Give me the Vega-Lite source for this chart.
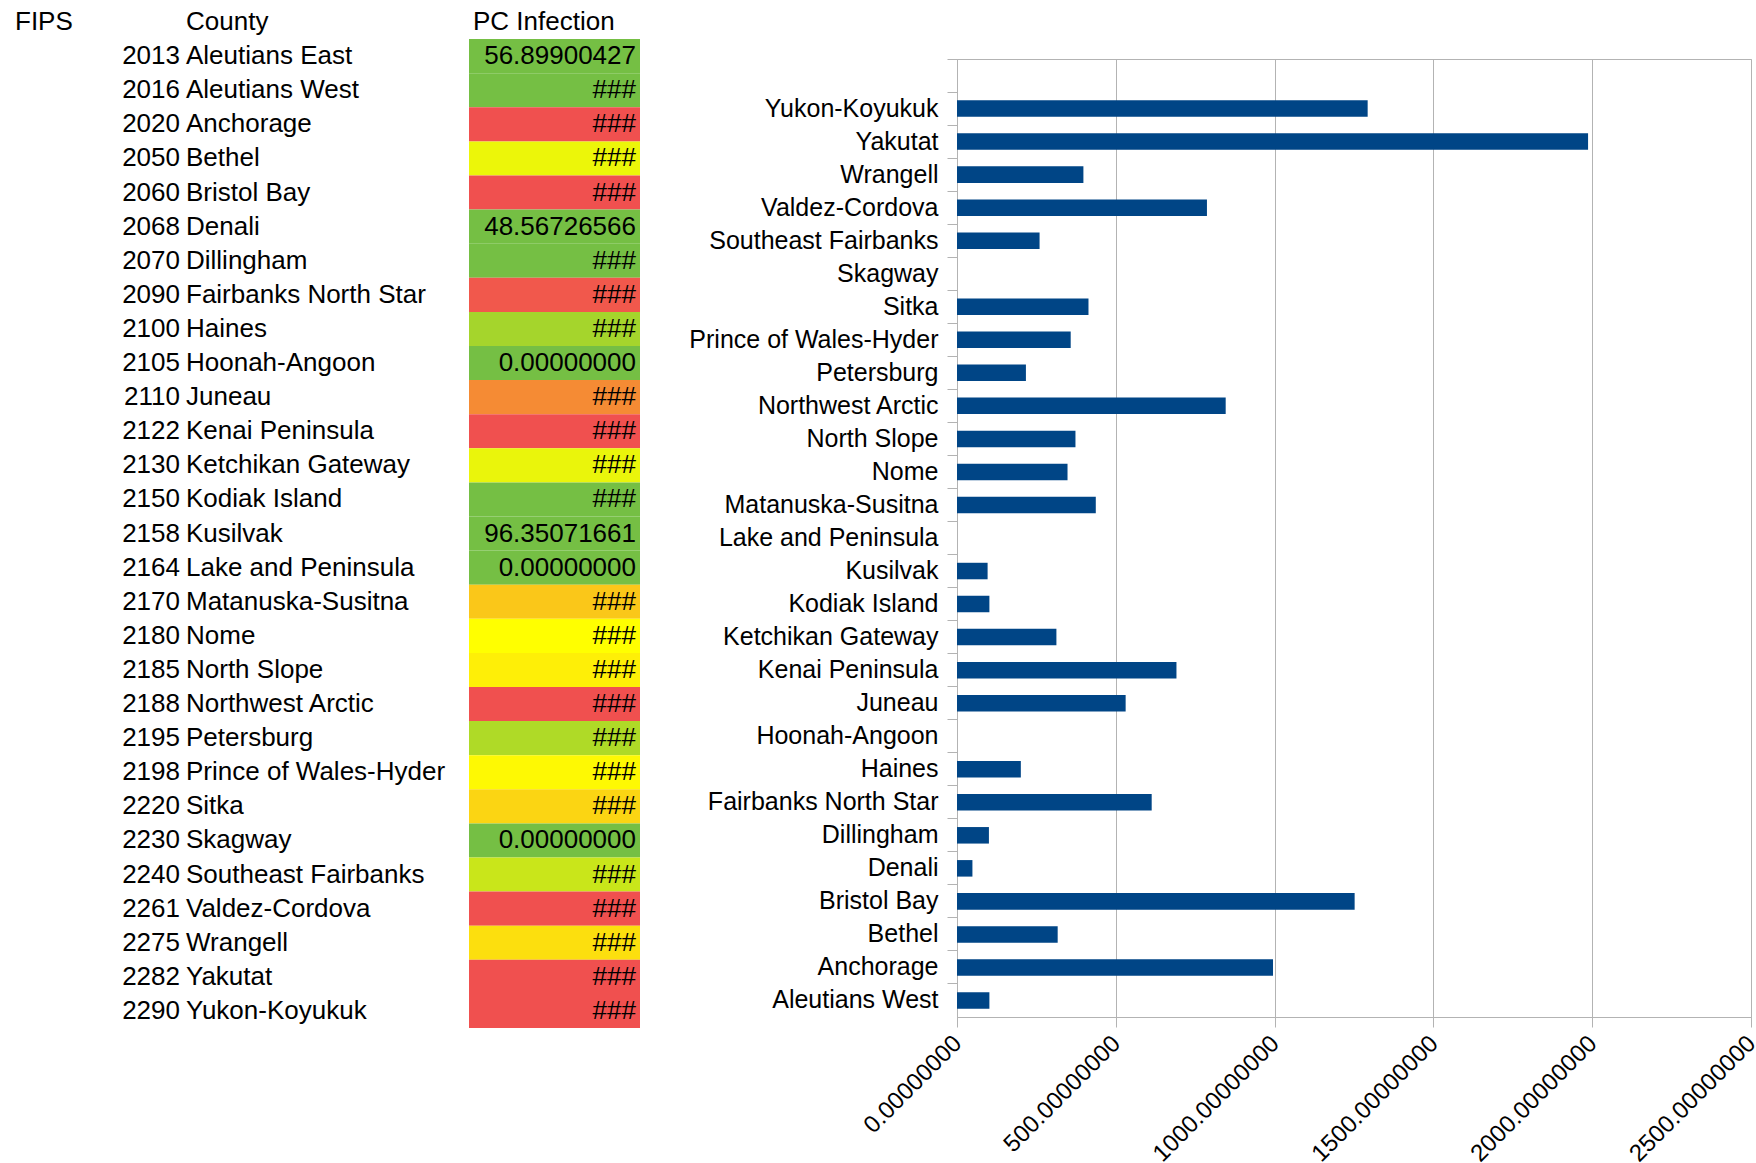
{
  "$schema": "https://vega.github.io/schema/vega-lite/v6.json",
  "background": "white",
  "padding": {"left": 0, "top": 5, "right": 0, "bottom": 0},
  "datasets": {
    "header": [
      {"row": 0, "FIPS": "FIPS", "County": "County", "PC": "PC Infection"}
    ],
    "sheet": [
      {"row": 1, "FIPS": 2013, "County": "Aleutians East", "PC": 56.89900427},
      {"row": 2, "FIPS": 2016, "County": "Aleutians West", "PC": 102},
      {"row": 3, "FIPS": 2020, "County": "Anchorage", "PC": 995},
      {"row": 4, "FIPS": 2050, "County": "Bethel", "PC": 317},
      {"row": 5, "FIPS": 2060, "County": "Bristol Bay", "PC": 1252},
      {"row": 6, "FIPS": 2068, "County": "Denali", "PC": 48.56726566},
      {"row": 7, "FIPS": 2070, "County": "Dillingham", "PC": 100.5},
      {"row": 8, "FIPS": 2090, "County": "Fairbanks North Star", "PC": 613},
      {"row": 9, "FIPS": 2100, "County": "Haines", "PC": 201},
      {"row": 10, "FIPS": 2105, "County": "Hoonah-Angoon", "PC": 0},
      {"row": 11, "FIPS": 2110, "County": "Juneau", "PC": 531},
      {"row": 12, "FIPS": 2122, "County": "Kenai Peninsula", "PC": 691},
      {"row": 13, "FIPS": 2130, "County": "Ketchikan Gateway", "PC": 313},
      {"row": 14, "FIPS": 2150, "County": "Kodiak Island", "PC": 102},
      {"row": 15, "FIPS": 2158, "County": "Kusilvak", "PC": 96.35071661},
      {"row": 16, "FIPS": 2164, "County": "Lake and Peninsula", "PC": 0},
      {"row": 17, "FIPS": 2170, "County": "Matanuska-Susitna", "PC": 437},
      {"row": 18, "FIPS": 2180, "County": "Nome", "PC": 348},
      {"row": 19, "FIPS": 2185, "County": "North Slope", "PC": 373},
      {"row": 20, "FIPS": 2188, "County": "Northwest Arctic", "PC": 846},
      {"row": 21, "FIPS": 2195, "County": "Petersburg", "PC": 217},
      {"row": 22, "FIPS": 2198, "County": "Prince of Wales-Hyder", "PC": 358},
      {"row": 23, "FIPS": 2220, "County": "Sitka", "PC": 414},
      {"row": 24, "FIPS": 2230, "County": "Skagway", "PC": 0},
      {"row": 25, "FIPS": 2240, "County": "Southeast Fairbanks", "PC": 260},
      {"row": 26, "FIPS": 2261, "County": "Valdez-Cordova", "PC": 787},
      {"row": 27, "FIPS": 2275, "County": "Wrangell", "PC": 398},
      {"row": 28, "FIPS": 2282, "County": "Yakutat", "PC": 1987},
      {"row": 29, "FIPS": 2290, "County": "Yukon-Koyukuk", "PC": 1293},
      {"row": 30, "FIPS": null, "County": "", "PC": null}
    ]
  },
  "spacing": 48,
  "hconcat": [
    {
      "spacing": 0,
      "hconcat": [
        {
          "width": 183,
          "height": 1023,
          "encoding": {
            "y": {"field": "row", "type": "ordinal", "axis": null, "scale": {"type": "band", "paddingInner": 0, "paddingOuter": 0}},
            "x": {"datum": 1, "type": "quantitative", "scale": {"domain": [0, 1]}, "axis": null}
          },
          "layer": [
            {
              "data": {"name": "header"},
              "mark": {"type": "text", "align": "left", "baseline": "middle", "dx": 15, "font": "Liberation Sans", "fontSize": 26, "color": "#000000"},
              "encoding": {"x": {"datum": 0, "type": "quantitative"}, "text": {"field": "FIPS", "type": "nominal"}}
            },
            {
              "data": {"name": "sheet"},
              "transform": [{"filter": "datum.row <= 29"}],
              "mark": {"type": "text", "align": "right", "baseline": "middle", "dx": -3, "font": "Liberation Sans", "fontSize": 26, "color": "#000000"},
              "encoding": {"text": {"field": "FIPS", "type": "nominal"}}
            }
          ]
        },
        {
          "width": 286,
          "height": 1023,
          "encoding": {
            "y": {"field": "row", "type": "ordinal", "axis": null, "scale": {"type": "band", "paddingInner": 0, "paddingOuter": 0}},
            "x": {"datum": 0, "type": "quantitative", "scale": {"domain": [0, 1]}, "axis": null}
          },
          "layer": [
            {
              "data": {"name": "header"},
              "mark": {"type": "text", "align": "left", "baseline": "middle", "dx": 3, "font": "Liberation Sans", "fontSize": 26, "color": "#000000"},
              "encoding": {"text": {"field": "County", "type": "nominal"}}
            },
            {
              "data": {"name": "sheet"},
              "transform": [{"filter": "datum.row <= 29"}],
              "mark": {"type": "text", "align": "left", "baseline": "middle", "dx": 3, "font": "Liberation Sans", "fontSize": 26, "color": "#000000"},
              "encoding": {"text": {"field": "County", "type": "nominal"}}
            }
          ]
        },
        {
          "width": 171,
          "height": 1023,
          "encoding": {
            "y": {"field": "row", "type": "ordinal", "axis": null, "scale": {"type": "band", "paddingInner": 0, "paddingOuter": 0}}
          },
          "layer": [
            {
              "data": {"name": "header"},
              "mark": {"type": "text", "align": "left", "baseline": "middle", "dx": 4, "font": "Liberation Sans", "fontSize": 26, "color": "#000000"},
              "encoding": {
                "x": {"datum": 0, "type": "quantitative", "scale": {"domain": [0, 1]}, "axis": null},
                "text": {"field": "PC", "type": "nominal"}
              }
            },
            {
              "data": {"name": "sheet"},
              "transform": [{"filter": "datum.row <= 29"}],
              "mark": {"type": "rect"},
              "encoding": {
                "fill": {
                  "field": "PC",
                  "type": "quantitative",
                  "legend": null,
                  "scale": {"domain": [122, 348, 625], "range": ["#75bf44", "#ffff00", "#f0504f"], "clamp": true, "interpolate": "rgb"}
                }
              }
            },
            {
              "data": {"name": "sheet"},
              "transform": [{"filter": "datum.row <= 29"}],
              "mark": {"type": "text", "align": "right", "baseline": "middle", "dx": -4, "font": "Liberation Sans", "fontSize": 26, "color": "#000000"},
              "encoding": {
                "x": {"datum": 1, "type": "quantitative", "scale": {"domain": [0, 1]}, "axis": null},
                "text": {
                  "condition": {"test": "datum.PC >= 100", "value": "###"},
                  "field": "PC",
                  "type": "quantitative",
                  "format": ".8f"
                }
              }
            }
          ]
        }
      ]
    },
    {
      "spacing": 52,
      "vconcat": [
        {
          "width": 794,
          "height": 1,
          "data": {"values": []},
          "mark": {"type": "text"},
          "encoding": {}
        },
        {
          "width": 794,
          "height": 958,
          "view": {"stroke": "#b3b3b3", "strokeWidth": 1},
          "data": {"name": "sheet"},
          "transform": [{"filter": "datum.row >= 2"}],
          "mark": {"type": "bar", "color": "#004586", "height": {"band": 0.5}, "invalid": "show"},
          "encoding": {
            "y": {
              "field": "County",
              "type": "nominal",
              "sort": {"field": "row", "op": "min", "order": "descending"},
              "scale": {"paddingInner": 0, "paddingOuter": 0},
              "axis": {
                "title": null,
                "bandPosition": 0,
                "tickSize": 10,
                "tickColor": "#b3b3b3",
                "domainColor": "#b3b3b3",
                "labelFont": "Liberation Sans",
                "labelFontSize": 25,
                "labelColor": "#000000",
                "labelPadding": 9,
                "labelLimit": 0,
                "grid": false
              }
            },
            "x": {
              "field": "PC",
              "type": "quantitative",
              "scale": {"domain": [0, 2500], "nice": false},
              "axis": {
                "title": null,
                "values": [0, 500, 1000, 1500, 2000, 2500],
                "format": ".8f",
                "labelAngle": -45,
                "labelFont": "Liberation Sans",
                "labelFontSize": 24,
                "labelColor": "#000000",
                "labelPadding": 4,
                "labelOffset": -8,
                "labelFlush": false,
                "labelOverlap": false,
                "grid": true,
                "gridColor": "#b3b3b3",
                "tickColor": "#b3b3b3",
                "domainColor": "#b3b3b3",
                "tickSize": 10
              }
            }
          }
        }
      ]
    }
  ],
  "config": {
    "view": {"stroke": null},
    "font": "Liberation Sans"
  }
}
